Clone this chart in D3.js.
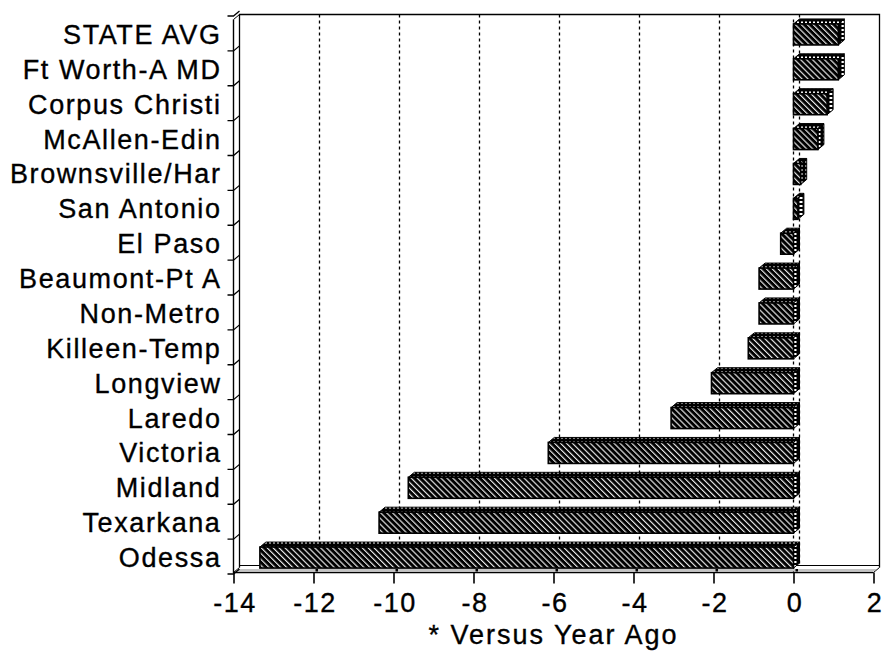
<!DOCTYPE html>
<html>
<head>
<meta charset="utf-8">
<script src="https://cdn.jsdelivr.net/npm/d3@7/dist/d3.min.js"></script>
<style>
  html, body { margin: 0; padding: 0; background: #fff; }
  svg { display: block; }
  text { font-family: "Liberation Sans", Arial, Helvetica, sans-serif; fill: #000; }
</style>
</head>
<body>
<svg id="chart" width="882" height="654"></svg>
<script>
// ---- data ----
const categories = ["STATE AVG", "Ft Worth-A MD", "Corpus Christi", "McAllen-Edin",
  "Brownsville/Har", "San Antonio", "El Paso", "Beaumont-Pt A", "Non-Metro",
  "Killeen-Temp", "Longview", "Laredo", "Victoria", "Midland", "Texarkana", "Odessa"];
const values = [1.12, 1.12, 0.84, 0.61, 0.18, 0.11, -0.32, -0.86, -0.86,
  -1.13, -2.05, -3.06, -6.13, -9.63, -10.36, -13.34];
const xTicks = [-14, -12, -10, -8, -6, -4, -2, 0, 2];
const xTitle = "* Versus Year Ago";

// ---- layout ----
const svg = d3.select("#chart");
const left = 233.5, right = 873.5, floorY = 572.5, topY = 14.5;
const dx = 6, dy = 5; // 3D depth offset
const x = d3.scaleLinear().domain([-14, 2]).range([left, right]);
const y = d3.scaleBand().domain(categories).range([17, 575]).paddingInner(0).paddingOuter(0);
const barH = 21;
const fontSize = 27;

const defs = svg.append("defs");
const hatch = defs.append("pattern").attr("id", "hatch")
  .attr("patternUnits", "userSpaceOnUse").attr("width", 4.2).attr("height", 4.2)
  .attr("patternTransform", "rotate(-45)");
hatch.append("rect").attr("width", 4.2).attr("height", 4.2).attr("fill", "#fff");
hatch.append("rect").attr("width", 2.6).attr("height", 4.2).attr("fill", "#000");
hatch.append("rect").attr("x", 3.4).attr("width", 0.8).attr("height", 4.2).attr("fill", "#555");

const dots = defs.append("pattern").attr("id", "dots")
  .attr("patternUnits", "userSpaceOnUse").attr("width", 4).attr("height", 5);
dots.append("rect").attr("width", 4).attr("height", 5).attr("fill", "#000");
dots.append("rect").attr("x", 1).attr("y", 1.5).attr("width", 2).attr("height", 2).attr("fill", "#fff");

const vdots = defs.append("pattern").attr("id", "vdots")
  .attr("patternUnits", "userSpaceOnUse").attr("width", 6).attr("height", 4);
vdots.append("rect").attr("width", 6).attr("height", 4).attr("fill", "#000");
vdots.append("rect").attr("x", 1.5).attr("y", 1).attr("width", 3).attr("height", 2).attr("fill", "#fff");

// ---- frame (3D box) ----
const frame = svg.append("g").attr("fill", "none").attr("stroke", "#000").attr("stroke-width", 1);
frame.append("path").attr("d",
  `M${left + dx},${floorY - dy}V${topY}H${right + dx}V${floorY - dy}`).attr("stroke-width", 1.3);
frame.append("line").attr("x1", left + dx).attr("x2", right + dx)
  .attr("y1", floorY - dy - 2).attr("y2", floorY - dy - 2);
frame.append("path").attr("d",
  `M${left},${topY + dy}V${floorY}H${right}`).attr("stroke-width", 1.4);
frame.append("line").attr("x1", left).attr("y1", topY + dy).attr("x2", left + dx).attr("y2", topY);
frame.append("line").attr("x1", right).attr("y1", floorY).attr("x2", right + dx).attr("y2", floorY - dy);
frame.append("line").attr("x1", left).attr("y1", floorY).attr("x2", left + dx).attr("y2", floorY - dy);
frame.append("line").attr("x1", left + 2.5).attr("x2", right + 2.5)
  .attr("y1", floorY - 2.5).attr("y2", floorY - 2.5).attr("stroke", "#888");

// ---- gridlines on back plane ----
const gridVals = xTicks.filter(v => v > -14 && v < 2);
svg.append("g").selectAll("line").data(gridVals).join("line")
  .attr("x1", d => x(d) + dx).attr("x2", d => x(d) + dx)
  .attr("y1", topY).attr("y2", floorY - dy - 2)
  .attr("stroke", "#000").attr("stroke-width", 1.3).attr("stroke-dasharray", "3,3");
svg.append("line").attr("x1", x(0)).attr("x2", x(0)).attr("y1", topY + dy).attr("y2", floorY)
  .attr("stroke", "#000").attr("stroke-width", 1.3).attr("stroke-dasharray", "3,3");

// ---- bars ----
const bars = svg.append("g").selectAll("g").data(categories).join("g");
bars.each(function (c, i) {
  const g = d3.select(this);
  const v = values[i];
  const x0 = x(Math.min(0, v)), x1 = x(Math.max(0, v));
  const cy = y(c) + y.bandwidth() / 2;
  const yt = cy - barH / 2, yb = cy + barH / 2;
  g.append("path").attr("d",
    `M${x0},${yt}L${x0 + dx},${yt - dy}L${x1 + dx},${yt - dy}L${x1},${yt}Z`)
    .attr("fill", "url(#dots)").attr("stroke", "#000").attr("stroke-width", 1);
  g.append("path").attr("d",
    `M${x1},${yt}L${x1 + dx},${yt - dy}L${x1 + dx},${yb - dy}L${x1},${yb}Z`)
    .attr("fill", "url(#vdots)").attr("stroke", "#000").attr("stroke-width", 1);
  g.append("rect").attr("x", x0).attr("y", yt).attr("width", x1 - x0).attr("height", barH)
    .attr("fill", "url(#hatch)").attr("stroke", "#000").attr("stroke-width", 1.6);
});

// ---- category axis ----
const yAxis = svg.append("g").attr("transform", `translate(${left},0)`)
  .call(d3.axisLeft(y).tickSize(0).tickPadding(0));
yAxis.select(".domain").remove();
yAxis.selectAll(".tick text")
  .attr("x", -12).attr("dy", null).attr("y", 9.5)
  .attr("font-size", fontSize).attr("letter-spacing", 1.6)
  .attr("stroke", "#000").attr("stroke-width", 0.35)
  .style("font-family", "'Liberation Sans', Arial, sans-serif");
const bounds = categories.map(c => y(c));
bounds.push(y(categories[categories.length - 1]) + y.bandwidth());
svg.append("g").selectAll("path").data(bounds).join("path")
  .attr("d", d => `M${left - 6},${d - 1}H${left}L${left + dx},${d - 1 - dy}`)
  .attr("fill", "none").attr("stroke", "#000").attr("stroke-width", 1.3);

// ---- value axis ----
const xAxis = svg.append("g").attr("transform", `translate(0,${floorY})`)
  .call(d3.axisBottom(x).tickValues(xTicks).tickSize(11).tickPadding(5).tickFormat(d => String(d)));
xAxis.select(".domain").remove();
xAxis.selectAll(".tick line").attr("stroke", "#000").attr("stroke-width", 1.6);
xAxis.selectAll(".tick text")
  .attr("font-size", fontSize).attr("letter-spacing", 1.5)
  .attr("stroke", "#000").attr("stroke-width", 0.35)
  .style("font-family", "'Liberation Sans', Arial, sans-serif")
  .attr("dy", null).attr("y", 39).attr("dx", 1);
svg.append("g").selectAll("rect").data(gridVals).join("rect")
  .attr("x", d => x(d) + 2).attr("y", floorY - 3.5).attr("width", 2.5).attr("height", 2.5)
  .attr("fill", "#000");

svg.append("text").attr("x", (left + right) / 2).attr("y", 644)
  .attr("text-anchor", "middle").attr("font-size", fontSize).attr("letter-spacing", 2)
  .attr("stroke", "#000").attr("stroke-width", 0.35)
  .text(xTitle);
</script>
</body>
</html>
